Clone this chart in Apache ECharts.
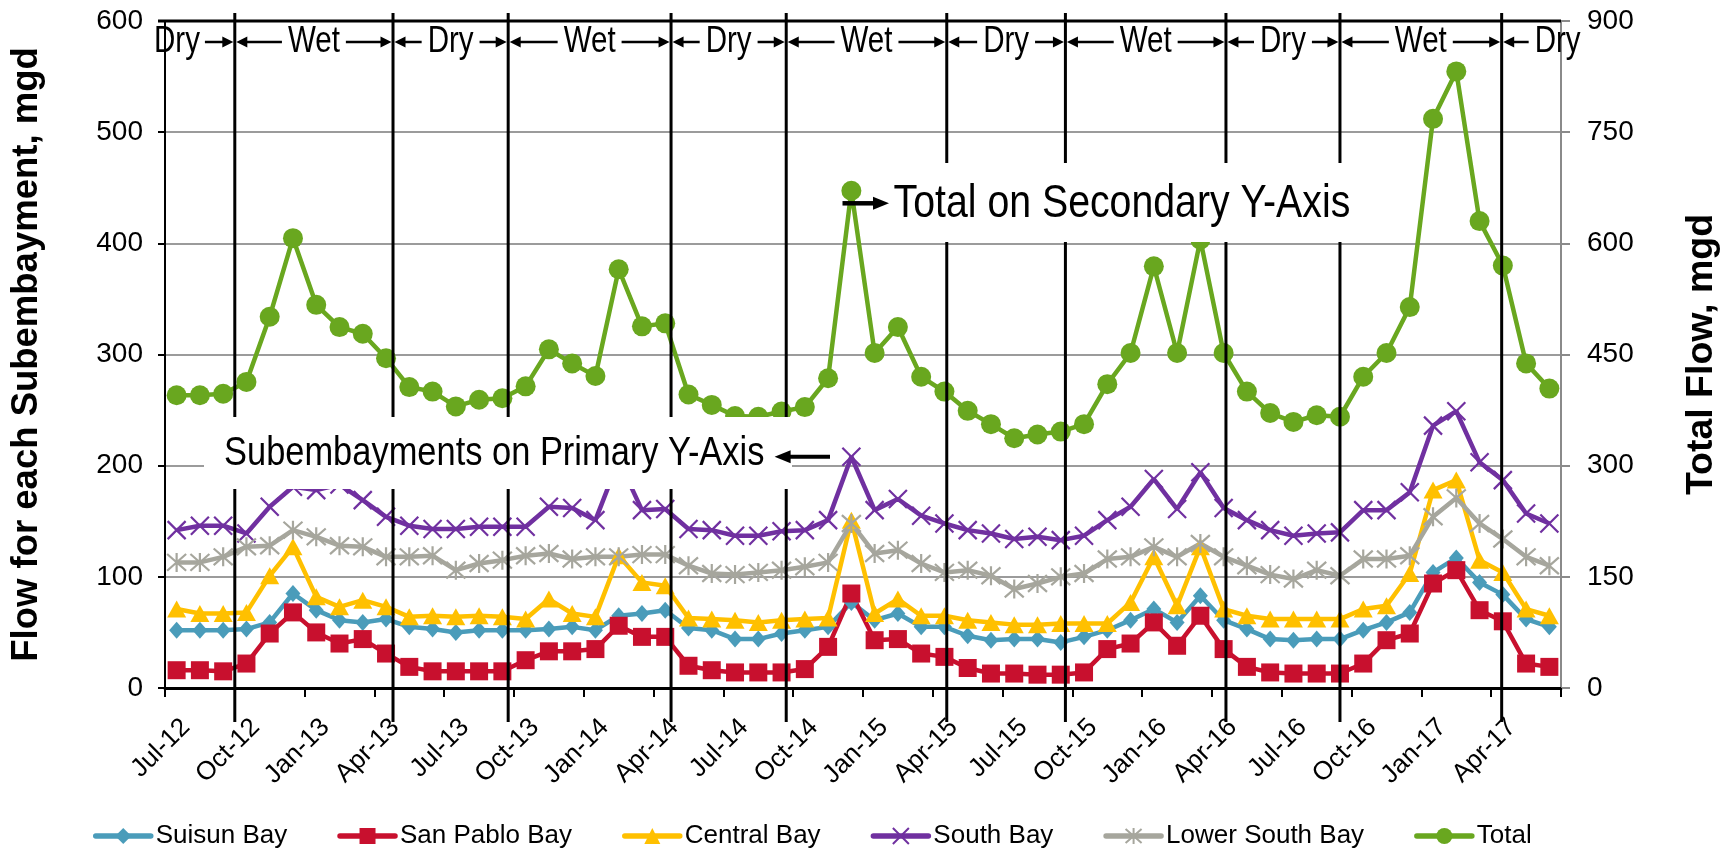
<!DOCTYPE html>
<html><head><meta charset="utf-8">
<script src="https://cdn.jsdelivr.net/npm/echarts@6/dist/echarts.min.js"></script>
<style>html,body{margin:0;padding:0;background:#fff}#c{width:1729px;height:850px}</style>
</head><body><div id="c"></div>
<script>
// ---------- DATA ----------
const months = ['Jul-12','Aug-12','Sep-12','Oct-12','Nov-12','Dec-12','Jan-13','Feb-13','Mar-13','Apr-13','May-13','Jun-13',
  'Jul-13','Aug-13','Sep-13','Oct-13','Nov-13','Dec-13','Jan-14','Feb-14','Mar-14','Apr-14','May-14','Jun-14',
  'Jul-14','Aug-14','Sep-14','Oct-14','Nov-14','Dec-14','Jan-15','Feb-15','Mar-15','Apr-15','May-15','Jun-15',
  'Jul-15','Aug-15','Sep-15','Oct-15','Nov-15','Dec-15','Jan-16','Feb-16','Mar-16','Apr-16','May-16','Jun-16',
  'Jul-16','Aug-16','Sep-16','Oct-16','Nov-16','Dec-16','Jan-17','Feb-17','Mar-17','Apr-17','May-17','Jun-17'];
const tickLabels = ['Jul-12','Oct-12','Jan-13','Apr-13','Jul-13','Oct-13','Jan-14','Apr-14','Jul-14','Oct-14',
  'Jan-15','Apr-15','Jul-15','Oct-15','Jan-16','Apr-16','Jul-16','Oct-16','Jan-17','Apr-17'];

const suisunBay = [52,52,52,53,59,85,70,61,59,62, 55,53,50,52,52,52,53,55,52,65, 67,70,54,52,44,44,49,52,55,77,
  61,67,55,55,47,43,44,44,41,46, 52,61,71,59,83,61,53,44,43,44, 44,52,59,68,104,117,95,84,62,55];
const sanPabloBay = [16,16,15,22,49,68,50,40,44,31, 19,15,15,15,15,25,33,33,35,56, 46,46,20,16,14,14,14,17,37,85,
  43,44,31,28,18,13,13,12,12,14, 35,40,59,38,65,35,19,14,13,13, 13,22,43,49,94,106,70,60,22,19];
const centralBay = [71,67,67,68,101,127,82,73,79,73, 64,65,64,65,64,62,80,67,64,119, 95,92,63,62,61,59,61,62,63,151,
  67,80,65,65,61,59,57,57,58,58, 58,77,118,74,127,71,65,62,62,62, 62,71,74,103,178,187,115,104,71,65];
const southBay = [142,146,146,139,163,181,178,183,169,154, 146,143,143,145,145,145,163,162,151,205, 160,161,143,142,137,137,141,142,151,208,
  160,170,155,148,142,139,134,136,133,137, 151,163,188,161,194,162,151,142,137,139, 140,160,160,176,236,249,203,187,157,148];
const lowerSouthBay = [113,113,118,127,128,142,136,128,127,118, 118,119,106,112,115,119,121,116,118,118, 120,120,110,103,102,104,106,109,113,148,
  121,124,112,104,106,101,89,94,100,103, 116,118,127,118,130,118,110,102,98,106, 101,116,116,119,154,171,148,134,118,110];
const totalFlow = [395,395,397,413,501,607,517,487,478,445, 406,400,380,389,391,407,457,438,421,565, 488,492,396,382,367,366,373,379,418,671,
  452,487,420,400,374,356,337,342,346,356, 410,452,569,452,605,452,400,371,359,368, 366,420,452,514,768,832,630,570,438,404];

// season divider positions (in months from Jul-12) and season labels
const seasonBounds = [3, 9.8, 14.75, 21.75, 26.7, 33.6, 38.7, 45.6, 50.5, 57.45];
const seasonLabels = ['Dry','Wet','Dry','Wet','Dry','Wet','Dry','Wet','Dry','Wet','Dry'];

// ---------- CHART ----------
const FONT = '"Liberation Sans", Arial, Helvetica, sans-serif';
const chart = echarts.init(document.getElementById('c'), null, {renderer: 'canvas'});

function lineSeries(name, data, color, symbol, size, yIdx, stroke) {
  return {
    name, type: 'line', data, yAxisIndex: yIdx, symbol, symbolSize: size, showAllSymbol: true,
    lineStyle: {color, width: 4.5}, itemStyle: {color, borderColor: color, borderWidth: stroke ? 2.2 : 0},
    emphasis: {disabled: true}, z: 3
  };
}
const X_PATH = 'path://M0,0L10,10M10,0L0,10';
const STAR_PATH = 'path://M5,0L5,10M0.6,0.6L9.4,9.4M9.4,0.6L0.6,9.4';

const option = {
  animation: false,
  backgroundColor: '#fff',
  grid: {left: 162, right: 166, top: 21, bottom: 162, containLabel: false},
  xAxis: {
    type: 'category', data: months, boundaryGap: true,
    axisLine: {lineStyle: {color: '#000', width: 3}},
    axisTick: {show: true, interval: 2, length: 9, lineStyle: {color: '#000', width: 2}},
    axisLabel: {interval: 2, rotate: 45, fontSize: 26, color: '#000', fontFamily: FONT, margin: 26, verticalAlign: 'top',
      formatter: (v) => tickLabels.indexOf(v) >= 0 ? v : ''},
    splitLine: {show: false}
  },
  yAxis: [
    {type: 'value', min: 0, max: 600, interval: 100, position: 'left',
      name: 'Flow for each Subembayment, mgd', nameLocation: 'middle', nameRotate: 90, nameGap: 120,
      nameTextStyle: {fontSize: 36.5, fontWeight: 'bold', color: '#000', fontFamily: FONT},
      axisLine: {show: true, lineStyle: {color: '#000', width: 2}},
      axisTick: {show: true, length: 7, lineStyle: {color: '#000', width: 2}},
      axisLabel: {fontSize: 28, color: '#000', fontFamily: FONT, margin: 22},
      splitLine: {show: true, lineStyle: {color: '#9b9b9b', width: 2}}},
    {type: 'value', min: 0, max: 900, interval: 150, position: 'right',
      name: 'Total Flow, mgd', nameLocation: 'middle', nameRotate: 90, nameGap: 122,
      nameTextStyle: {fontSize: 37.5, fontWeight: 'bold', color: '#000', fontFamily: FONT},
      axisLine: {show: true, lineStyle: {color: '#8a8a8a', width: 2}},
      axisTick: {show: true, length: 9, lineStyle: {color: '#8a8a8a', width: 2}},
      axisLabel: {fontSize: 28, color: '#000', fontFamily: FONT, margin: 26},
      splitLine: {show: false}}
  ],
  legend: {
    left: 88, top: 818, itemWidth: 55, itemHeight: 20, itemGap: 50,
    lineStyle: {width: 5.5, cap: 'round'},
    textStyle: {fontSize: 26, color: '#000', fontFamily: FONT},
    data: ['Suisun Bay','San Pablo Bay','Central Bay','South Bay','Lower South Bay','Total']
  },
  series: [
    lineSeries('Suisun Bay', suisunBay, '#4A9CBA', 'diamond', [15, 17], 0, false),
    lineSeries('San Pablo Bay', sanPabloBay, '#C8102E', 'rect', 18, 0, false),
    lineSeries('Central Bay', centralBay, '#FFC000', 'triangle', [19, 17], 0, false),
    lineSeries('South Bay', southBay, '#7030A0', X_PATH, [18, 18], 0, true),
    lineSeries('Lower South Bay', lowerSouthBay, '#A6A69D', STAR_PATH, [19, 19], 0, true),
    lineSeries('Total', totalFlow, '#69A71F', 'circle', 20, 1, false)
  ]
};
chart.setOption(option);

// ---------- ANNOTATIONS (placed through the axes) ----------
const cx0 = chart.convertToPixel({xAxisIndex: 0}, 0);
const stepX = chart.convertToPixel({xAxisIndex: 0}, 1) - cx0;
const xAt = (u) => cx0 + (u - 0.5) * stepX;     // u = months from start of Jul-12
const yTop = chart.convertToPixel({yAxisIndex: 0}, 600);
const yBot = chart.convertToPixel({yAxisIndex: 0}, 0);
const xL = xAt(0), xR = xAt(60);

const meas = document.createElement('canvas').getContext('2d');
function textW(t, size, sx) { meas.font = size + 'px "Liberation Sans"'; return meas.measureText(t).width * sx; }

function arrow(tailX, tipX, y, shaftW, headL, headH, z) {
  const dir = Math.sign(tipX - tailX);
  const baseX = tipX - dir * headL;
  return [
    {type: 'line', z, silent: true, shape: {x1: tailX, y1: y, x2: baseX + dir * 1, y2: y}, style: {stroke: '#000', lineWidth: shaftW}},
    {type: 'polygon', z, silent: true, shape: {points: [[tipX, y], [baseX, y - headH / 2], [baseX, y + headH / 2]]}, style: {fill: '#000'}}
  ];
}
function txt(t, x, y, size, sx, align, z) {
  return {type: 'text', x, y, scaleX: sx, z, silent: true,
    style: {text: t, fontSize: size, fontFamily: '"Liberation Sans"', fill: '#000', align, verticalAlign: 'middle'}};
}

const G = [];
// top border
G.push({type: 'line', z: 50, silent: true, shape: {x1: xL - 7, y1: yTop, x2: xR, y2: yTop}, style: {stroke: '#000', lineWidth: 3}});
// dividers
seasonBounds.forEach(u => {
  const x = xAt(u);
  G.push({type: 'line', z: 50, silent: true, shape: {x1: x, y1: yTop - 8, x2: x, y2: yBot + 34}, style: {stroke: '#000', lineWidth: 3}});
});
// season labels with arrows
const SY = yTop + 21, SF = 36, SX = 0.82;
const bounds = [0, ...seasonBounds, 60];
seasonLabels.forEach((lab, k) => {
  const xs = xAt(bounds[k]), xe = xAt(bounds[k + 1]);
  const w = textW(lab, SF, SX);
  if (k === 0) {
    const tx = xs - 11;
    G.push(txt(lab, tx, SY, SF, SX, 'left', 60));
    G.push(...arrow(tx + w + 5, xe - 1.5, SY, 2.5, 11, 11, 60));
  } else if (k === seasonLabels.length - 1) {
    G.push(...arrow(xs + 27, xs + 1.5, SY, 2.5, 11, 11, 60));
    G.push(txt(lab, xs + 33, SY, SF, SX, 'left', 60));
  } else {
    const c = (xs + xe) / 2;
    G.push(txt(lab, c, SY, SF, SX, 'center', 60));
    G.push(...arrow(c - w / 2 - 6, xs + 1.5, SY, 2.5, 11, 11, 60));
    G.push(...arrow(c + w / 2 + 6, xe - 1.5, SY, 2.5, 11, 11, 60));
  }
});
// text box 1 : subembayments
G.push({type: 'rect', z: 100, silent: true, shape: {x: 204, y: 417, width: 588, height: 72}, style: {fill: '#fff'}});
G.push(txt('Subembayments on Primary Y-Axis', 224, 454, 41, 0.84, 'left', 101));
G.push(...arrow(830, 774.6, 456.7, 4, 16, 13, 101));
// text box 2 : total
G.push({type: 'rect', z: 100, silent: true, shape: {x: 886, y: 163, width: 476, height: 79}, style: {fill: '#fff'}});
G.push(txt('Total on Secondary Y-Axis', 893.6, 204, 47, 0.835, 'left', 101));
G.push(...arrow(842.5, 889, 203.3, 4.5, 16, 13, 102));

chart.setOption({graphic: {elements: G}});
</script>
</body></html>
